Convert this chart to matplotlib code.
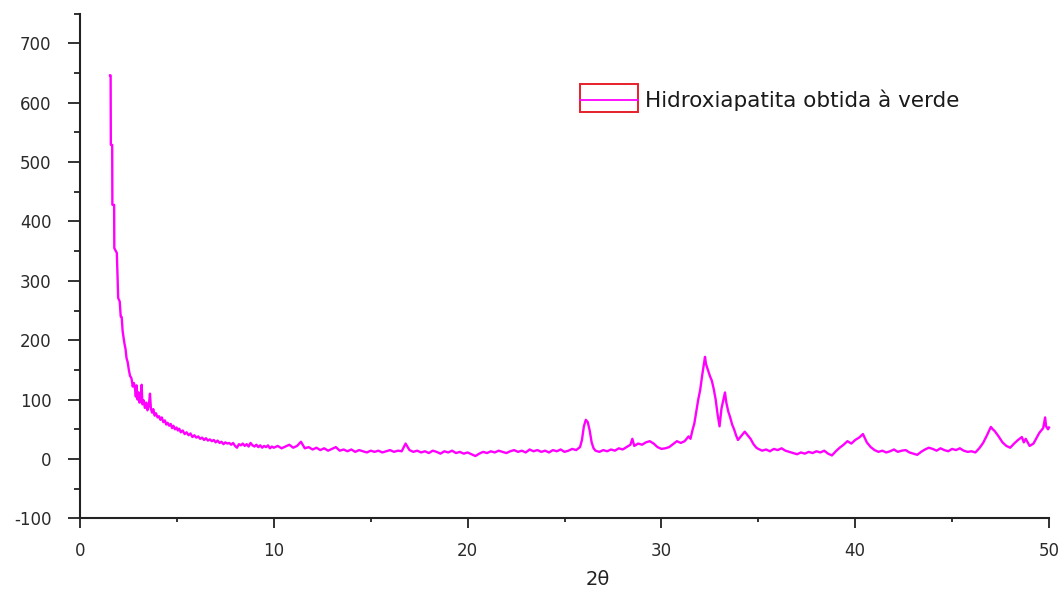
import matplotlib.pyplot as plt
from matplotlib.ticker import MultipleLocator
from matplotlib.patches import Rectangle
from matplotlib.lines import Line2D

# XRD pattern (2theta in degrees, intensity in counts)
two_theta = [
    1.55, 1.58, 1.59, 1.66, 1.67, 1.76, 1.77, 1.90, 1.97, 2.05, 2.10, 2.15, 2.20, 2.29, 2.35,
    2.40, 2.46, 2.52, 2.58, 2.64, 2.67, 2.72, 2.78, 2.84, 2.88, 2.92, 2.97, 3.02, 3.07, 3.13,
    3.18, 3.22, 3.28, 3.35, 3.42, 3.48, 3.55, 3.61, 3.66, 3.72, 3.78, 3.85, 3.92, 4.00, 4.08,
    4.15, 4.22, 4.30, 4.38, 4.45, 4.52, 4.60, 4.68, 4.75, 4.82, 4.90, 4.98, 5.05, 5.12, 5.20,
    5.30, 5.40, 5.50, 5.60, 5.70, 5.80, 5.90, 6.00, 6.10, 6.20, 6.30, 6.40, 6.50, 6.60, 6.70,
    6.80, 6.90, 7.00, 7.10, 7.20, 7.30, 7.40, 7.50, 7.60, 7.70, 7.80, 7.90, 8.00, 8.10, 8.20,
    8.30, 8.40, 8.50, 8.60, 8.70, 8.80, 8.90, 9.00, 9.10, 9.20, 9.30, 9.40, 9.50, 9.60, 9.70,
    9.80, 9.90, 10.0, 10.2, 10.4, 10.6, 10.8, 11.0, 11.2, 11.4, 11.6, 11.8, 12.0, 12.2, 12.4,
    12.6, 12.8, 13.0, 13.2, 13.4, 13.6, 13.8, 14.0, 14.2, 14.4, 14.6, 14.8, 15.0, 15.2, 15.4,
    15.6, 15.8, 16.0, 16.2, 16.4, 16.6, 16.8, 17.0, 17.2, 17.4, 17.6, 17.8, 18.0, 18.2, 18.4,
    18.6, 18.8, 19.0, 19.2, 19.4, 19.6, 19.8, 20.0, 20.2, 20.4, 20.6, 20.8, 21.0, 21.2, 21.4,
    21.6, 21.8, 22.0, 22.2, 22.4, 22.6, 22.8, 23.0, 23.2, 23.4, 23.6, 23.8, 24.0, 24.2, 24.4,
    24.6, 24.8, 25.0, 25.2, 25.4, 25.6, 25.8, 25.9, 26.0, 26.1, 26.2, 26.3, 26.4, 26.5, 26.6,
    26.8, 27.0, 27.2, 27.4, 27.6, 27.8, 28.0, 28.2, 28.4, 28.5, 28.6, 28.8, 29.0, 29.2, 29.4,
    29.6, 29.8, 30.0, 30.2, 30.4, 30.6, 30.8, 31.0, 31.2, 31.4, 31.5, 31.6, 31.7, 31.8, 31.9,
    32.0, 32.1, 32.2, 32.25, 32.3, 32.4, 32.5, 32.6, 32.7, 32.8, 32.9, 33.0, 33.1, 33.2, 33.28,
    33.35, 33.45, 33.55, 33.65, 33.75, 33.85, 33.95, 34.1, 34.3, 34.45, 34.6, 34.75, 34.9, 35.0,
    35.2, 35.4, 35.6, 35.8, 36.0, 36.2, 36.4, 36.6, 36.8, 37.0, 37.2, 37.4, 37.6, 37.8, 38.0,
    38.2, 38.4, 38.6, 38.8, 39.0, 39.2, 39.4, 39.6, 39.8, 40.0, 40.2, 40.4, 40.6, 40.8, 41.0,
    41.2, 41.4, 41.6, 41.8, 42.0, 42.2, 42.4, 42.6, 42.8, 43.0, 43.2, 43.4, 43.6, 43.8, 44.0,
    44.2, 44.4, 44.6, 44.8, 45.0, 45.2, 45.4, 45.6, 45.8, 46.0, 46.2, 46.4, 46.6, 46.8, 47.0,
    47.1, 47.2, 47.4, 47.6, 47.8, 48.0, 48.2, 48.4, 48.6, 48.7, 48.8, 49.0, 49.2, 49.4, 49.5,
    49.6, 49.7, 49.8, 49.85, 49.95, 50.0,
]
intensity = [
    646, 646, 529, 529, 428, 428, 355, 347, 271, 265, 240, 239, 215, 195, 185,
    170, 163, 150, 140, 137, 133, 122, 128, 118, 105, 124, 100, 112, 95, 103,
    125, 92, 99, 86, 95, 82, 90, 110, 84, 78, 84, 73, 77, 70, 72,
    66, 70, 62, 65, 58, 61, 56, 59, 52, 56, 50, 53, 48, 51, 45,
    48, 42, 45, 40, 43, 37, 40, 36, 38, 34, 36, 32, 35, 31, 33,
    30, 32, 28, 31, 27, 29, 25, 28, 26, 27, 24, 27, 22, 19, 25,
    23, 26, 22, 25, 21, 27, 23, 21, 24, 20, 23, 19, 22, 20, 23,
    18, 21, 19, 22, 18, 21, 24, 19, 22, 29, 18, 20, 16, 19, 15,
    18, 14, 17, 20, 14, 16, 13, 16, 12, 15, 13, 11, 14, 12, 14,
    11, 13, 15, 12, 14, 13, 26, 15, 12, 14, 11, 13, 10, 14, 12,
    9, 13, 11, 14, 10, 12, 9, 11, 8, 5, 9, 12, 10, 13, 11,
    14, 12, 10, 13, 15, 12, 14, 11, 16, 13, 15, 12, 14, 11, 15,
    13, 16, 12, 14, 17, 15, 20, 32, 55, 66, 62, 48, 28, 18, 14,
    12, 15, 13, 16, 14, 18, 16, 20, 24, 34, 22, 26, 24, 28, 30,
    26, 20, 17, 18, 20, 25, 30, 27, 30, 38, 34, 48, 60, 80, 100,
    116, 140, 162, 172, 160, 150, 140, 132, 118, 100, 75, 55, 85, 100, 112,
    95, 80, 70, 58, 50, 40, 32, 38, 46, 40, 34, 25, 19, 17,
    14, 16, 13, 17, 15, 18, 14, 12, 10, 8, 11, 9, 12, 10, 13,
    11, 14, 9, 6, 13, 19, 24, 30, 26, 32, 36, 42, 28, 20, 15,
    12, 14, 11, 13, 16, 12, 14, 15, 11, 9, 7, 12, 16, 19, 17,
    14, 18, 15, 13, 17, 15, 18, 14, 12, 13, 11, 18, 27, 40, 54,
    50, 47, 38, 28, 22, 19, 26, 32, 37, 28, 34, 22, 26, 38, 44,
    48, 52, 70, 55, 50, 53,
]

legend_label = 'Hidroxiapatita obtida à verde'

plt.rcParams['font.family'] = ['DejaVu Sans']

fig = plt.figure(figsize=(10.64, 5.89), dpi=100)
ax = fig.add_axes([0.0752, 0.1199, 0.9107, 0.857])

ax.plot(two_theta, intensity, color='#ff00ff', linewidth=1.7, clip_on=False)

ax.set_xlim(0, 50)
ax.set_ylim(-100, 750)
ax.xaxis.set_major_locator(MultipleLocator(10))
ax.xaxis.set_minor_locator(MultipleLocator(5))
ax.yaxis.set_minor_locator(MultipleLocator(50))
ax.set_yticks(range(-100, 800, 100))
ax.set_yticklabels([str(v) if v <= 700 else '' for v in range(-100, 800, 100)])

# Only left and bottom axes, like the original software
for side in ['top', 'right']:
    ax.spines[side].set_visible(False)
for side in ['left', 'bottom']:
    ax.spines[side].set_linewidth(1.5)
    ax.spines[side].set_color('#222222')

ax.tick_params(axis='y', which='major', direction='out', length=8.5, width=1.3,
               pad=12, labelsize=12, colors='#222222')
ax.tick_params(axis='y', which='minor', direction='out', length=4.5, width=1.3, colors='#222222')
ax.tick_params(axis='x', which='major', direction='out', length=7, width=1.3,
               pad=10, labelsize=12, colors='#222222')
ax.tick_params(axis='x', which='minor', direction='out', length=3, width=1.3, colors='#222222')
for lbl in ax.get_xticklabels() + ax.get_yticklabels():
    lbl.set_color('#2a2a2a')

ax.set_xlabel('2θ', fontsize=14, color='#222222', va='center')
ax.xaxis.set_label_coords(0.534, -0.122)

# Legend drawn by hand: red box with magenta line through it
ax.add_patch(Rectangle((0.516, 0.805), 0.060, 0.055, transform=ax.transAxes,
                       fill=False, edgecolor='#e8202a', linewidth=1.4))
ax.add_line(Line2D([0.516, 0.576], [0.8295, 0.8295], transform=ax.transAxes,
                   color='#ff00ff', linewidth=1.3))
ax.text(0.583, 0.829, legend_label, transform=ax.transAxes, fontsize=15.5,
        va='center', ha='left', color='#1a1a1a')

fig.savefig('out.png', dpi=100)
